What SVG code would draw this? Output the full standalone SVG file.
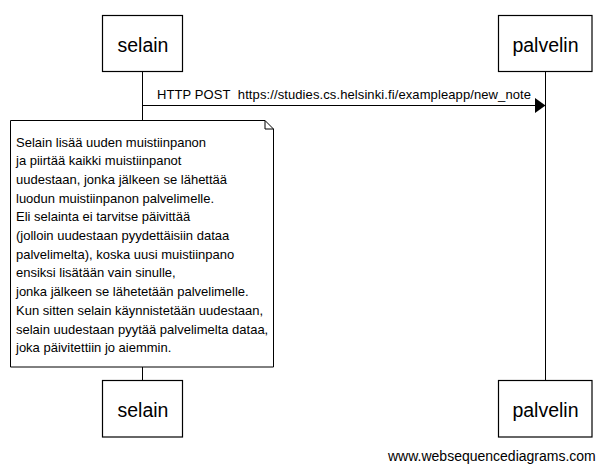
<svg xmlns="http://www.w3.org/2000/svg" width="607" height="471" viewBox="0 0 607 471">
<style>
.box{fill:#fff;stroke:#000;stroke-width:1.2}
.lbl{font-family:"Liberation Sans",Arial,sans-serif;font-size:19.5px;fill:#000;text-anchor:middle}
.life{stroke:#000;stroke-width:1;fill:none}
.txt{font-family:"Liberation Sans",Arial,sans-serif;font-size:13px;fill:#000}
</style>
<rect width="607" height="471" fill="#fff"/>
<g id="connectors">
<line class="life" x1="142.5" y1="71.5" x2="142.5" y2="120"/>
<line class="life" x1="142.5" y1="367" x2="142.5" y2="380"/>
<line class="life" x1="545.5" y1="71.5" x2="545.5" y2="380"/>
<g id="msg1">
<line class="life" x1="142.5" y1="105.5" x2="537" y2="105.5"/>
<polygon points="535,98 545.5,105.5 535,113" fill="#000"/>
<text class="txt" x="157" y="99" textLength="374" lengthAdjust="spacing" xml:space="preserve">HTTP POST  https://studies.cs.helsinki.fi/exampleapp/new_note</text>
</g>
</g>
<g id="selain-top">
<rect class="box" x="102.5" y="15.5" width="80" height="56"/>
<text class="lbl" x="143" y="52">selain</text>
</g>
<g id="palvelin-top">
<rect class="box" x="498.5" y="15.5" width="93.5" height="56"/>
<text class="lbl" x="545.5" y="52">palvelin</text>
</g>
<g id="note">
<path d="M10.5,120.5 H265 L273.5,129 V367 H10.5 Z" fill="#fff" stroke="#000" stroke-width="1"/>
<path d="M265,120.5 V129 H273.5" fill="none" stroke="#000" stroke-width="1"/>
<text class="txt">
<tspan x="16" y="146.5">Selain lisää uuden muistiinpanon</tspan>
<tspan x="16" y="165.2">ja piirtää kaikki muistiinpanot</tspan>
<tspan x="16" y="183.9">uudestaan, jonka jälkeen se lähettää</tspan>
<tspan x="16" y="202.6">luodun muistiinpanon palvelimelle.</tspan>
<tspan x="16" y="221.3">Eli selainta ei tarvitse päivittää</tspan>
<tspan x="16" y="240">(jolloin uudestaan pyydettäisiin dataa</tspan>
<tspan x="16" y="258.7">palvelimelta), koska uusi muistiinpano</tspan>
<tspan x="16" y="277.4">ensiksi lisätään vain sinulle,</tspan>
<tspan x="16" y="296.1">jonka jälkeen se lähetetään palvelimelle.</tspan>
<tspan x="16" y="314.8">Kun sitten selain käynnistetään uudestaan,</tspan>
<tspan x="16" y="333.5">selain uudestaan pyytää palvelimelta dataa,</tspan>
<tspan x="16" y="352.2">joka päivitettiin jo aiemmin.</tspan>
</text>
</g>
<g id="selain-bottom">
<rect class="box" x="102.5" y="380.5" width="80" height="56.5"/>
<text class="lbl" x="143" y="417">selain</text>
</g>
<g id="palvelin-bottom">
<rect class="box" x="498.5" y="380.5" width="93.5" height="56.5"/>
<text class="lbl" x="545.5" y="417">palvelin</text>
</g>
<text x="388" y="461" font-family="Liberation Sans,Arial,sans-serif" font-size="14px" fill="#000">www.websequencediagrams.com</text>
</svg>
